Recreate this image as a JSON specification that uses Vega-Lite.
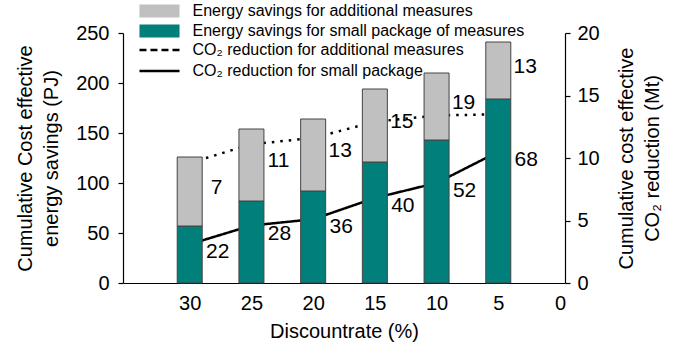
{
  "$schema": "https://vega.github.io/schema/vega-lite/v6.json",
  "autosize": "none",
  "width": 442,
  "height": 250,
  "padding": {"left": 123, "top": 33, "right": 112, "bottom": 65},
  "config": {
    "font": "Liberation Sans",
    "view": {"stroke": null},
    "axis": {
      "grid": false,
      "domainColor": "#000000",
      "tickColor": "#000000",
      "labelColor": "#000000",
      "titleColor": "#000000",
      "labelFontSize": 20,
      "titleFontSize": 20,
      "titleFontWeight": "normal",
      "domainWidth": 1.2,
      "tickWidth": 1.2
    },
    "legend": {"labelFontSize": 16, "labelColor": "#000000", "padding": 0, "labelLimit": 400}
  },
  "datasets": {
    "energy": [
      {"rate": 30, "measure": "Energy savings for small package of measures", "pj": 57},
      {"rate": 30, "measure": "Energy savings for additional measures", "pj": 69, "label": 7},
      {"rate": 25, "measure": "Energy savings for small package of measures", "pj": 82},
      {"rate": 25, "measure": "Energy savings for additional measures", "pj": 72, "label": 11},
      {"rate": 20, "measure": "Energy savings for small package of measures", "pj": 92},
      {"rate": 20, "measure": "Energy savings for additional measures", "pj": 72, "label": 13},
      {"rate": 15, "measure": "Energy savings for small package of measures", "pj": 121},
      {"rate": 15, "measure": "Energy savings for additional measures", "pj": 73, "label": 15},
      {"rate": 10, "measure": "Energy savings for small package of measures", "pj": 143},
      {"rate": 10, "measure": "Energy savings for additional measures", "pj": 67, "label": 19},
      {"rate": 5, "measure": "Energy savings for small package of measures", "pj": 184},
      {"rate": 5, "measure": "Energy savings for additional measures", "pj": 57, "label": 13}
    ],
    "co2": [
      {"rate": 30, "kind": "CO₂ reduction for small package", "mt": 3.1, "label": 22},
      {"rate": 25, "kind": "CO₂ reduction for small package", "mt": 4.6, "label": 28},
      {"rate": 20, "kind": "CO₂ reduction for small package", "mt": 5.1, "label": 36},
      {"rate": 15, "kind": "CO₂ reduction for small package", "mt": 6.8, "label": 40},
      {"rate": 10, "kind": "CO₂ reduction for small package", "mt": 8.0, "label": 52},
      {"rate": 5, "kind": "CO₂ reduction for small package", "mt": 10.5, "label": 68},
      {"rate": 30, "kind": "CO₂ reduction for additional measures", "mt": 9.6},
      {"rate": 25, "kind": "CO₂ reduction for additional measures", "mt": 11.1},
      {"rate": 20, "kind": "CO₂ reduction for additional measures", "mt": 11.6},
      {"rate": 15, "kind": "CO₂ reduction for additional measures", "mt": 12.9},
      {"rate": 10, "kind": "CO₂ reduction for additional measures", "mt": 13.4},
      {"rate": 5, "kind": "CO₂ reduction for additional measures", "mt": 13.5}
    ]
  },
  "encoding": {
    "x": {
      "field": "rate",
      "type": "quantitative",
      "scale": {"domain": [0, 35], "reverse": true, "nice": false, "zero": false},
      "axis": {
        "title": "Discountrate (%)",
        "values": [0, 5, 10, 15, 20, 25, 30],
        "ticks": false,
        "labelPadding": 10,
        "titlePadding": 8
      }
    }
  },
  "layer": [
    {
      "data": {"name": "co2"},
      "layer": [
        {
          "description": "Key for the two CO2 lines: draws no marks, only the dashed/solid legend",
          "transform": [{"filter": "false"}],
          "mark": {"type": "line", "color": "#000000", "strokeWidth": 2.5},
          "encoding": {
            "y": {
              "field": "mt",
              "type": "quantitative",
              "scale": {"domain": [0, 20], "nice": false},
              "axis": {
                "orient": "right",
                "values": [0, 5, 10, 15, 20],
                "tickSize": 5,
                "labelPadding": 7,
                "titleAngle": -90,
                "titlePadding": 11,
                "titleLineHeight": 26,
                "title": ["Cumulative cost effective", "CO₂ reduction (Mt)"]
              }
            },
            "strokeDash": {
              "field": "kind",
              "type": "nominal",
              "scale": {
                "domain": ["CO₂ reduction for additional measures", "CO₂ reduction for small package"],
                "range": [[7, 4], [1, 0]]
              },
              "legend": {
                "orient": "none",
                "legendX": 28.5,
                "legendY": 9,
                "title": null,
                "symbolType": "M-3.08,0H3.08",
                "symbolSize": 169,
                "symbolStrokeWidth": 2.5,
                "symbolStrokeColor": "#000000",
                "labelOffset": 25,
                "rowPadding": 5
              }
            }
          }
        },
        {
          "mark": {"type": "line", "color": "#000000", "strokeWidth": 2.5},
          "encoding": {
            "y": {
              "field": "mt",
              "type": "quantitative",
              "title": ["Cumulative cost effective", "CO₂ reduction (Mt)"]
            },
            "strokeDash": {
              "field": "kind",
              "type": "nominal",
              "scale": {
                "domain": ["CO₂ reduction for additional measures", "CO₂ reduction for small package"],
                "range": [[2.5, 6], [1, 0]]
              },
              "legend": null
            }
          }
        },
        {
          "transform": [{"filter": "datum.label != null"}],
          "mark": {"type": "text", "fontSize": 21, "align": "center", "baseline": "middle", "dx": 28, "dy": 8, "color": "#000000"},
          "encoding": {
            "y": {
              "field": "mt",
              "type": "quantitative",
              "title": ["Cumulative cost effective", "CO₂ reduction (Mt)"]
            },
            "text": {"field": "label", "type": "quantitative"}
          }
        }
      ],
      "resolve": {"scale": {"strokeDash": "independent"}, "legend": {"strokeDash": "independent"}}
    },
    {
      "data": {"name": "energy"},
      "layer": [
        {
          "mark": {"type": "bar", "size": 25, "stroke": "#444444", "strokeWidth": 1},
          "encoding": {
            "y": {
              "field": "pj",
              "type": "quantitative",
              "stack": "zero",
              "scale": {"domain": [0, 250], "nice": false},
              "axis": {
                "orient": "left",
                "values": [0, 50, 100, 150, 200, 250],
                "tickSize": 5,
                "labelPadding": 9,
                "titlePadding": 14,
                "titleLineHeight": 26,
                "title": ["Cumulative Cost effective", "energy savings (PJ)"]
              }
            },
            "fill": {
              "field": "measure",
              "type": "nominal",
              "scale": {
                "domain": ["Energy savings for additional measures", "Energy savings for small package of measures"],
                "range": ["#c0c0c0", "#007f7b"]
              },
              "legend": {
                "orient": "none",
                "legendX": 28.5,
                "legendY": -30,
                "title": null,
                "symbolType": "M-3.08,-1H3.08V1H-3.08Z",
                "symbolSize": 169,
                "symbolStrokeWidth": 0,
                "labelOffset": 25,
                "rowPadding": 4
              }
            },
            "order": {"field": "measure", "sort": "descending"}
          }
        },
        {
          "transform": [
            {"stack": "pj", "groupby": ["rate"], "sort": [{"field": "measure", "order": "descending"}], "as": ["lo", "hi"]},
            {"filter": "datum.label != null"},
            {"fold": ["lo", "hi"], "as": ["edge", "pos"]}
          ],
          "mark": {"type": "text", "fontSize": 21, "align": "center", "baseline": "middle", "dx": 27, "dy": -4, "color": "#000000"},
          "encoding": {
            "y": {
              "field": "pos",
              "aggregate": "mean",
              "type": "quantitative",
              "title": ["Cumulative Cost effective", "energy savings (PJ)"]
            },
            "text": {"field": "label", "type": "quantitative"}
          }
        }
      ]
    }
  ],
  "resolve": {"scale": {"y": "independent"}, "axis": {"y": "independent"}}
}
